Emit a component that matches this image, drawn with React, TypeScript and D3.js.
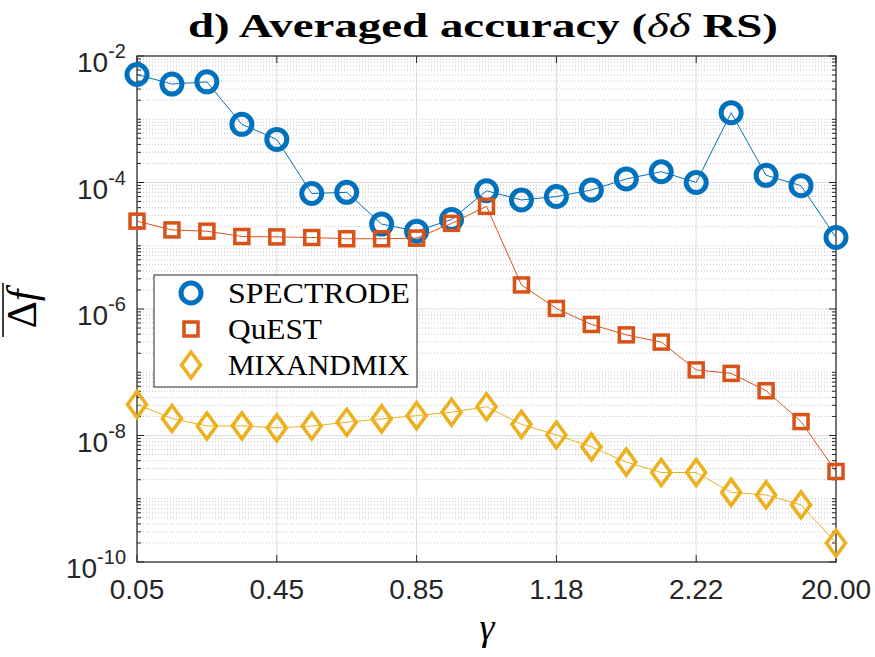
import { scaleLinear, scaleLog, line, range } from "d3";

// gamma index 1..21; labels shown every 4th point
const gammaTickIdx = [1, 5, 9, 13, 17, 21];
const gammaTickLabels = ["0.05", "0.45", "0.85", "1.18", "2.22", "20.00"];
const decadeLabels = [-2, -4, -6, -8, -10];

const spectrode = [
  5.1e-3, 3.6e-3, 3.9e-3, 8.3e-4, 4.8e-4, 6.7e-5, 7.0e-5, 2.2e-5, 1.7e-5, 2.6e-5, 7.4e-5,
  5.3e-5, 6.0e-5, 7.6e-5, 1.14e-4, 1.48e-4, 1.0e-4, 1.27e-3, 1.3e-4, 8.9e-5, 1.35e-5,
];
const quest = [
  2.45e-5, 1.78e-5, 1.7e-5, 1.4e-5, 1.38e-5, 1.35e-5, 1.29e-5, 1.29e-5, 1.32e-5, 2.26e-5, 4.2e-5,
  2.4e-6, 1.02e-6, 5.7e-7, 3.9e-7, 3.0e-7, 1.09e-7, 9.6e-8, 5.1e-8, 1.66e-8, 2.7e-9,
];
const mixandmix = [
  3.1e-8, 1.86e-8, 1.41e-8, 1.42e-8, 1.32e-8, 1.41e-8, 1.62e-8, 1.83e-8, 2.06e-8, 2.33e-8, 2.85e-8,
  1.5e-8, 1.02e-8, 6.6e-9, 3.8e-9, 2.6e-9, 2.6e-9, 1.26e-9, 1.15e-9, 8.0e-10, 2.0e-10,
];

const seriesNames = ["SPECTRODE", "QuEST", "MIXANDMIX"];
const seriesColors = ["#0072BD", "#D95319", "#EDB120"];
const legendWidths = [182, 94, 181];

const W = 875;
const H = 657;
const L = 137;
const R = 836;
const T = 56;
const B = 562;

const AXIS = "#262626";
const SANS = "'Liberation Sans', Arial, sans-serif";
const SERIF = "'Liberation Serif', 'Times New Roman', serif";

function Marker({ kind, x, y, color }: { kind: number; x: number; y: number; color: string }) {
  if (kind === 0)
    return <circle cx={x} cy={y} r={10} fill="none" stroke={color} strokeWidth={5} />;
  if (kind === 1)
    return (
      <rect x={x - 7} y={y - 7} width={14} height={14} fill="none" stroke={color} strokeWidth={3.5} />
    );
  return (
    <path
      d={`M${x},${y - 13}L${x + 9.5},${y}L${x},${y + 13}L${x - 9.5},${y}Z`}
      fill="none"
      stroke={color}
      strokeWidth={3.6}
      strokeLinejoin="miter"
    />
  );
}

export default function App() {
  const x = scaleLinear().domain([1, 21]).range([L, R]);
  const y = scaleLog().domain([1e-10, 1e-2]).range([B, T]);

  const series = [spectrode, quest, mixandmix];
  const path = line<number>()
    .x((_, i) => x(i + 1))
    .y((d) => y(d));

  // decades and the 2..9 minor steps in between
  const majors = decadeLabels.map((e) => Math.pow(10, e));
  const minors: number[] = [];
  range(-10, -2).forEach((e) => {
    range(1, 10).forEach((m) => {
      const v = m * Math.pow(10, e);
      if (!(m === 1 && e % 2 === 0)) minors.push(v);
    });
  });

  return (
    <svg
      width={W}
      height={H}
      style={{ position: "absolute", left: 0, top: 0, background: "#fff" }}
    >
      <rect x={0} y={0} width={W} height={H} fill="#fff" />

      {/* grid */}
      {minors.map((v, i) => (
        <line key={`mg${i}`} x1={L} x2={R} y1={y(v)} y2={y(v)} stroke="#c4c4c4" strokeWidth={1} strokeDasharray="1,2" />
      ))}
      {majors.map((v, i) => (
        <line key={`g${i}`} x1={L} x2={R} y1={y(v)} y2={y(v)} stroke="#dedede" strokeWidth={1} />
      ))}
      {gammaTickIdx.map((t, i) => (
        <line key={`vg${i}`} x1={x(t)} x2={x(t)} y1={T} y2={B} stroke="#dedede" strokeWidth={1} />
      ))}

      {/* axes box and ticks */}
      <rect x={L} y={T} width={R - L} height={B - T} fill="none" stroke={AXIS} strokeWidth={1.2} />
      {gammaTickIdx.map((t, i) => (
        <g key={`xt${i}`} stroke={AXIS} strokeWidth={1}>
          <line x1={x(t)} x2={x(t)} y1={B} y2={B - 7} />
          <line x1={x(t)} x2={x(t)} y1={T} y2={T + 7} />
        </g>
      ))}
      {majors.map((v, i) => (
        <g key={`yt${i}`} stroke={AXIS} strokeWidth={1}>
          <line x1={L} x2={L + 7} y1={y(v)} y2={y(v)} />
          <line x1={R} x2={R - 7} y1={y(v)} y2={y(v)} />
        </g>
      ))}
      {minors.map((v, i) => (
        <g key={`ymt${i}`} stroke={AXIS} strokeWidth={1}>
          <line x1={L} x2={L + 4} y1={y(v)} y2={y(v)} />
          <line x1={R} x2={R - 4} y1={y(v)} y2={y(v)} />
        </g>
      ))}

      {/* series: line then markers */}
      {series.map((s, k) => (
        <g key={`s${k}`}>
          <path d={path(s) ?? ""} fill="none" stroke={seriesColors[k]} strokeWidth={1} />
          {s.map((v, i) => (
            <Marker key={i} kind={k} x={x(i + 1)} y={y(v)} color={seriesColors[k]} />
          ))}
        </g>
      ))}

      {/* tick labels */}
      {gammaTickIdx.map((t, i) => (
        <text key={`xl${i}`} x={x(t)} y={599} textAnchor="middle" fontFamily={SANS} fontSize={28} fill={AXIS}>
          {gammaTickLabels[i]}
        </text>
      ))}
      {decadeLabels.map((e, i) => (
        <text key={`yl${i}`} x={126} y={y(Math.pow(10, e)) + 16} textAnchor="end" fontFamily={SANS} fontSize={28} fill={AXIS}>
          10
          <tspan dy={-14} fontSize={20}>
            {e}
          </tspan>
        </text>
      ))}

      {/* legend */}
      <rect x={154} y={275} width={263} height={112} fill="#fff" stroke={AXIS} strokeWidth={1} />
      {seriesNames.map((n, k) => (
        <g key={`lg${k}`}>
          <Marker kind={k} x={191} y={293 + k * 36} color={seriesColors[k]} />
          <text
            x={228}
            y={303 + k * 36}
            fontFamily={SERIF}
            fontSize={30}
            fill="#000"
            textLength={legendWidths[k]}
            lengthAdjust="spacingAndGlyphs"
          >
            {n}
          </text>
        </g>
      ))}

      {/* title and axis labels */}
      <text
        x={483}
        y={37}
        textAnchor="middle"
        fontFamily={SERIF}
        fontWeight="bold"
        fontSize={33}
        fill="#000"
        textLength={590}
        lengthAdjust="spacingAndGlyphs"
      >
        d) Averaged accuracy (
        <tspan fontStyle="italic" fontWeight="normal">δδ</tspan> RS)
      </text>
      <text x={487} y={640} textAnchor="middle" fontFamily={SERIF} fontStyle="italic" fontSize={38} fill="#000">
        γ
      </text>
      <g transform="translate(36,310) rotate(-90)">
        <text x={1} y={0} textAnchor="middle" fontFamily={SERIF} fontSize={42} fill="#000">
          Δ<tspan fontStyle="italic">f</tspan>
        </text>
        <line x1={-27} x2={27} y1={-33} y2={-33} stroke="#000" strokeWidth={1.5} />
      </g>
    </svg>
  );
}
